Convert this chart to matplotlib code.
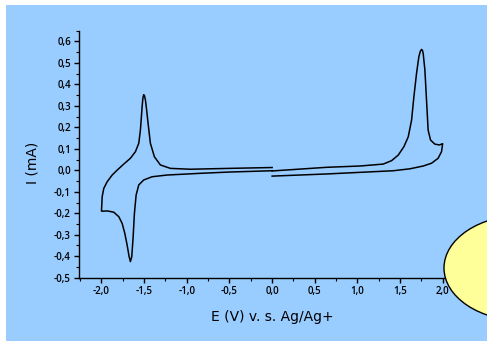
import matplotlib
matplotlib.use("Agg")
import matplotlib.pyplot as plt
from matplotlib.patches import Rectangle, Ellipse
from matplotlib.ticker import MultipleLocator, FuncFormatter

# Left (cathodic) loop: E in V, I in mA
left_E = [0.0, -0.5, -0.959, -1.193, -1.31, -1.38, -1.427, -1.454, -1.472, -1.485,
          -1.496, -1.505, -1.514, -1.524, -1.534, -1.544, -1.563, -1.602, -1.661,
          -1.739, -1.816, -1.875, -1.933, -1.973, -1.992, -2.0, -1.97, -1.933, -1.856,
          -1.797, -1.758, -1.727, -1.70, -1.676, -1.661, -1.645, -1.629, -1.614,
          -1.594, -1.563, -1.505, -1.407, -1.232, -0.842, -0.5, 0.0]
left_I = [0.013, 0.009, 0.005, 0.009, 0.025, 0.063, 0.126, 0.219, 0.285, 0.327,
          0.347, 0.352, 0.338, 0.296, 0.24, 0.187, 0.126, 0.087, 0.056,
          0.029, 0.001, -0.022, -0.053, -0.084, -0.123, -0.19, -0.19, -0.189, -0.195,
          -0.216, -0.247, -0.293, -0.347, -0.402, -0.425, -0.402, -0.309, -0.20,
          -0.115, -0.068, -0.045, -0.03, -0.022, -0.014, -0.008, -0.002]

# Right (anodic) loop
right_E = [0.0, 0.64, 1.029, 1.302, 1.40, 1.478, 1.544, 1.595, 1.634, 1.661, 1.692,
           1.719, 1.736, 1.751, 1.762, 1.770, 1.79, 1.809, 1.828, 1.856, 1.906, 1.96,
           1.998, 1.985, 1.945, 1.868, 1.77, 1.614, 1.42, 0.64, 0.0]
right_I = [-0.003, 0.014, 0.02, 0.029, 0.045, 0.071, 0.11, 0.156, 0.234, 0.342, 0.451,
           0.528, 0.554, 0.563, 0.558, 0.544, 0.467, 0.327, 0.187, 0.141, 0.122, 0.118,
           0.124, 0.087, 0.056, 0.033, 0.02, 0.007, -0.002, -0.017, -0.027]

x_label = "E (V) v. s. Ag/Ag+"
y_label = "I (mA)"

W, H = 487, 342
fig = plt.figure(figsize=(W / 100, H / 100), dpi=100)
fig.patch.set_facecolor("white")
bg = Rectangle((6 / W, 1 / H), 481 / W, 336 / H, transform=fig.transFigure,
               facecolor="#99ccff", edgecolor="none", zorder=-10)
fig.patches.append(bg)

ax = fig.add_axes([79.3 / W, 64.3 / H, 385.7 / W, 247 / H])
ax.set_facecolor("none")
ax.plot(left_E, left_I, color="black", lw=1.1, solid_joinstyle="round")
ax.plot(right_E, right_I, color="black", lw=1.1, solid_joinstyle="round")

ax.set_xlim(-2.26, 2.26)
ax.set_ylim(-0.5, 0.65)
for s in ("top", "right"):
    ax.spines[s].set_visible(False)
for s in ("left", "bottom"):
    ax.spines[s].set_linewidth(1.0)

ax.xaxis.set_major_locator(MultipleLocator(0.5))
ax.xaxis.set_minor_locator(MultipleLocator(0.25))
ax.yaxis.set_major_locator(MultipleLocator(0.1))
ax.yaxis.set_minor_locator(MultipleLocator(0.05))
fmt = FuncFormatter(lambda v, p: ("%.1f" % v).replace(".", ",").replace("-0,0", "0,0"))
ax.xaxis.set_major_formatter(fmt)
ax.yaxis.set_major_formatter(fmt)
ax.tick_params(which="major", direction="out", length=3.5, width=1.0, labelsize=7,
               pad=2.5)
ax.tick_params(which="minor", direction="out", length=2, width=0.8)
for lab in ax.get_xticklabels() + ax.get_yticklabels():
    lab.set_fontfamily("Open Sans")
    lab.set_fontweight("semibold")

ax.set_xlabel(x_label, fontsize=10, fontfamily="DejaVu Sans")
ax.set_ylabel(y_label, fontsize=10, fontfamily="DejaVu Sans")
ax.xaxis.set_label_coords(0.5, -0.131)
ax.yaxis.set_label_coords(-0.104, 0.464)

ell = Ellipse((524 / W, 74 / H), 160 / W, 106 / H, transform=fig.transFigure,
              facecolor="#ffff99", edgecolor="black", lw=1.0, zorder=10)
fig.add_artist(ell)

fig.savefig("out.png", dpi=100)
